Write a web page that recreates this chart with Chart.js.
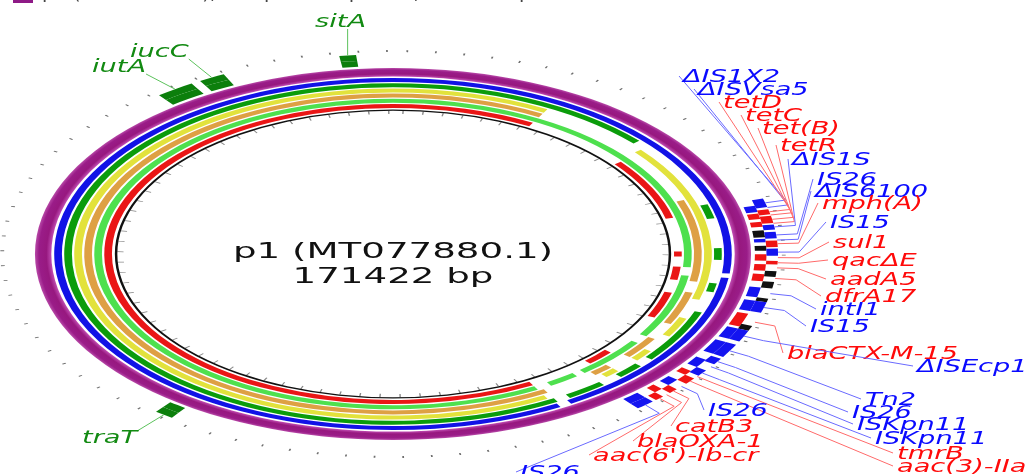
<!DOCTYPE html>
<html>
<head>
<meta charset="utf-8">
<script src="https://cdn.jsdelivr.net/npm/chart.js@4.4.0/dist/chart.umd.min.js"></script>
<style>
  html, body { margin: 0; padding: 0; background: #fff; }
  #wrap { width: 1028px; height: 474px; position: relative; overflow: hidden; }
</style>
</head>
<body>
<div id="wrap"><canvas id="map" width="1028" height="474"></canvas></div>
<script>
// plasmid length (kb)
const genomeLength = 171.422;

// BLAST rings, outer -> inner, [start, end] in kb
const ringPurple = [[0, 171.422]];
const ringBlue = [[0, 45.9], [46.6, 70.6], [71.6, 171.422]];
const ringDkGreen = [[0, 23.1], [34.8, 37.1], [41.9, 43.8], [47.6, 49.0], [52.4, 61.0], [62.4, 64.8], [66.7, 70.2], [71.4, 171.422]];
const ringYellow = [[0, 13.8], [24.3, 50.5], [53.8, 57.1], [60.0, 61.9], [64.3, 65.7], [71.9, 171.422]];
const ringOrange = [[0, 13.8], [33.5, 47.6], [49.5, 55.2], [58.1, 61.9], [64.3, 66.2], [71.4, 171.422]];
const ringLGreen = [[0, 45.2], [46.7, 58.1], [59.5, 66.7], [67.6, 70.5], [71.9, 171.422]];
const ringRed = [[0, 13.8], [24.8, 36.2], [42.4, 43.3], [45.2, 47.6], [50.0, 54.8], [62.4, 65.2], [71.9, 171.422]];

// annotated features
const featureNames = ['ΔIS1X2', 'ΔISVsa5', 'tetD', 'tetC', 'tet(B)', 'tetR', 'ΔIS1S', '', 'IS26', 'ΔIS6100',
  'mph(A)', '', 'IS15', 'sul1', 'qacΔE', 'aadA5', '', 'dfrA17', '', 'intI1',
  '', 'IS15', 'blaCTX-M-15', '', 'ΔISEcp1', 'Tn2', 'IS26', 'ISKpn11', 'ISKpn11', 'tmrB',
  'aac(3)-IIa', 'IS26', 'catB3', 'blaOXA-1', "aac(6')-Ib-cr", 'IS26', 'iutA', 'iucC', 'sitA', 'traT'];
const featureStart = [35.2, 36.0, 36.7, 37.1, 37.6, 38.3, 38.8, 39.5, 39.8, 40.7,
  41.0, 41.7, 42.1, 42.9, 43.8, 44.3, 45.2, 45.7, 46.7, 47.6,
  49.0, 49.5, 51.4, 52.9, 53.6, 55.7, 57.9, 58.6, 59.8, 60.5,
  61.2, 62.1, 63.1, 63.8, 64.5, 65.5, 153.6, 157.1, 167.6, 102.4];
const featureEnd = [36.4, 36.9, 37.4, 37.9, 38.6, 39.0, 39.5, 40.5, 40.7, 41.2,
  41.9, 42.4, 43.1, 43.8, 44.3, 45.2, 46.0, 46.7, 47.6, 49.0,
  49.5, 51.0, 53.3, 53.6, 55.2, 57.6, 58.8, 59.8, 60.7, 61.2,
  62.1, 63.1, 63.8, 64.5, 65.2, 66.9, 156.4, 159.0, 168.8, 103.8];
const featureKind = ['is', 'is', 'res', 'res', 'res', 'res', 'is', 'other', 'is', 'is',
  'res', 'other', 'is', 'res', 'res', 'res', 'other', 'res', 'other', 'is',
  'other', 'is', 'res', 'other', 'is', 'is', 'is', 'is', 'is', 'res',
  'res', 'is', 'res', 'res', 'res', 'is', 'vir', 'vir', 'vir', 'vir'];
const featureLane = ['o', 'i', 'o', 'i', 'o', 'i', 'o', 'i', 'o', 'i',
  'o', 'i', 'o', 'i', 'o', 'i', 'o', 'i', 'o', 'i',
  'o', 'b', 'i', 'o', 'b', 'b', 'o', 'i', 'o', 'i',
  'o', 'i', 'o', 'i', 'o', 'b', 'b', 'b', 'b', 'b'];

// where each label's text sits (left, baseline), keyed by feature index
const labelAt = {
  0: [683, 82], 1: [698, 95], 2: [723, 108], 3: [745, 121], 4: [762, 134], 5: [780, 151],
  6: [792, 165], 8: [817, 185], 9: [815, 197], 10: [822, 209], 12: [830, 228], 13: [833, 248],
  14: [832, 266], 15: [830, 285], 17: [825, 302], 19: [820, 315], 21: [810, 332], 22: [787, 359],
  24: [917, 372], 25: [865, 405], 26: [852, 418], 27: [857, 430], 28: [875, 444], 29: [897, 459],
  30: [897, 472], 31: [708, 416], 32: [675, 432], 33: [637, 447], 34: [593, 461], 35: [520, 478],
  36: [92, 72], 37: [130, 57], 38: [315, 27], 39: [82, 443]
};

const kindColor = { is: '#1414f0', res: '#f01414', other: '#111111', vir: '#0c7f0c' };
const kindText = { is: '#0a0aff', res: '#ff0a0a', vir: '#128a12' };
const kindLine = { is: '#6a6aff', res: '#ff6a6a', vir: '#5cc25c' };

const SX = 1.925;      // horizontal stretch of the map
const TX = 1.6;        // horizontal stretch of labels
const CLEAR = 'rgba(0,0,0,0)';

function ringData(segs, color) {
  const data = [], bg = [];
  let pos = 0;
  segs.forEach(([s, e]) => {
    if (s > pos) { data.push(s - pos); bg.push(CLEAR); }
    data.push(e - s); bg.push(color);
    pos = e;
  });
  if (pos < genomeLength) { data.push(genomeLength - pos); bg.push(CLEAR); }
  return { data, bg };
}

function laneData(lane) {
  const idx = featureStart.map((s, i) => i)
    .filter(i => featureLane[i] === lane || featureLane[i] === 'b')
    .sort((a, b) => featureStart[a] - featureStart[b]);
  const data = [], bg = [];
  let pos = 0;
  idx.forEach(i => {
    const s = Math.max(featureStart[i], pos), e = featureEnd[i];
    if (s > pos) { data.push(s - pos); bg.push(CLEAR); }
    data.push(e - s); bg.push(kindColor[featureKind[i]]);
    pos = e;
  });
  data.push(genomeLength - pos); bg.push(CLEAR);
  return { data, bg };
}

function tickData(step, half, color) {
  const segs = [];
  for (let p = step / 2; p < genomeLength; p += step) segs.push([p - half, p + half]);
  return ringData(segs, color);
}

function ds(d, weight) {
  return { data: d.data, backgroundColor: d.bg, borderWidth: 0, weight, clip: false };
}
function spacer(weight) {
  return { data: [genomeLength], backgroundColor: [CLEAR], borderWidth: 0, weight, clip: false };
}

// purple reference ring with the shaded edges of the original
function purpleShade(c) {
  const ctrl = c.chart.getDatasetMeta(c.datasetIndex).controller;
  const a = c.chart.chartArea;
  if (!a || !ctrl.outerRadius) return '#9c1f8b';
  const x = (a.left + a.right) / 2, y = (a.top + a.bottom) / 2;
  const g = c.chart.ctx.createRadialGradient(x, y, ctrl.innerRadius, x, y, ctrl.outerRadius);
  g.addColorStop(0, '#c04cb2');
  g.addColorStop(0.3, '#97187f');
  g.addColorStop(0.75, '#9a1c88');
  g.addColorStop(1, '#b84aa8');
  return g;
}

const purpleSet = ds(ringData(ringPurple, '#9c1f8b'), 8.5);
purpleSet.backgroundColor = purpleShade;

const datasets = [
  ds(tickData(2, 0.06, '#6e6e6e'), 2),
  spacer(2),
  ds(laneData('o'), 6),
  ds(laneData('i'), 6),
  spacer(2),
  purpleSet,
  spacer(1.5),
  ds(ringData(ringBlue, '#1212e6'), 4),
  spacer(1.2),
  ds(ringData(ringDkGreen, '#0b9c0b'), 4),
  spacer(1.2),
  ds(ringData(ringYellow, '#e2e23c'), 4),
  spacer(1.2),
  ds(ringData(ringOrange, '#dea044'), 4),
  spacer(1.2),
  ds(ringData(ringLGreen, '#4ee04e'), 4),
  spacer(1.2),
  ds(ringData(ringRed, '#ea1616'), 4),
  spacer(1.5),
  ds(ringData([[0, genomeLength]], '#111111'), 1.3),
  ds(tickData(2, 0.07, '#8a8a8a'), 3.2)
];

const ellipse = {
  id: 'ellipse',
  beforeDatasetsDraw(chart) {
    const c = chart.getDatasetMeta(0).data[0];
    const ctx = chart.ctx;
    ctx.save();
    ctx.translate(c.x, c.y);
    ctx.scale(SX, 1);
    ctx.translate(-c.x, -c.y);
  },
  afterDatasetsDraw(chart) { chart.ctx.restore(); }
};

function stretchedText(ctx, txt, x, y, sx, align) {
  ctx.save();
  ctx.translate(x, y);
  ctx.scale(sx, 1);
  ctx.textAlign = align || 'left';
  ctx.fillText(txt, 0, 0);
  ctx.restore();
}

const annotations = {
  id: 'annotations',
  afterDraw(chart) {
    const ctx = chart.ctx;
    const c = chart.getDatasetMeta(0).data[0];
    const cx = c.x, cy = c.y;
    const laneOuter = chart.getDatasetMeta(2).controller.outerRadius;
    const at = (kb, r) => {
      const a = -Math.PI / 2 + kb / genomeLength * Math.PI * 2;
      return [cx + SX * r * Math.cos(a), cy + r * Math.sin(a)];
    };

    // legend remnant at top-left
    ctx.fillStyle = '#8e1a86';
    ctx.fillRect(13, -8, 20, 11);
    ctx.fillStyle = '#444';
    ctx.font = '15px "DejaVu Sans"';
    ctx.textBaseline = 'alphabetic';
    stretchedText(ctx, 'p1 (MT077880.1), complete sequence, 171422 bp', 42, -1, 1.3);

    // centre title
    ctx.fillStyle = '#111';
    ctx.font = '21px "DejaVu Sans"';
    stretchedText(ctx, 'p1 (MT077880.1)', cx, 258, 1.77, 'center');
    stretchedText(ctx, '171422 bp', cx, 283, 1.77, 'center');

    // callouts + labels
    ctx.font = 'italic 17px "DejaVu Sans"';
    Object.keys(labelAt).forEach(k => {
      const i = +k;
      const [tx, ty] = labelAt[i];
      const kind = featureKind[i];
      const mid = (featureStart[i] + featureEnd[i]) / 2;
      const w = ctx.measureText(featureNames[i]).width * TX;
      ctx.strokeStyle = kindLine[kind];
      ctx.lineWidth = 1;
      ctx.beginPath();
      if (kind === 'vir') {
        const b = at(mid, laneOuter);
        const sx = Math.min(Math.max(b[0], tx), tx + w);
        const sy = Math.min(Math.max(b[1], ty - 12), ty + 2);
        ctx.moveTo(sx, sy);
        ctx.lineTo(b[0], b[1]);
      } else {
        const e = at(mid, laneOuter + 11);
        const b = at(mid, laneOuter);
        ctx.moveTo(tx - 4, ty - 6);
        ctx.lineTo(e[0], e[1]);
        ctx.lineTo(b[0], b[1]);
      }
      ctx.stroke();
      ctx.fillStyle = kindText[kind];
      stretchedText(ctx, featureNames[i], tx, ty, TX);
    });
  }
};

new Chart(document.getElementById('map'), {
  type: 'doughnut',
  data: { labels: datasets[0].data.map((v, i) => i), datasets },
  options: {
    responsive: false,
    animation: false,
    events: [],
    radius: 204,
    cutout: (140 / 204 * 100) + '%',
    layout: { padding: { left: 189, top: 50, right: 431, bottom: 16 } },
    plugins: { legend: { display: false }, tooltip: { enabled: false } }
  },
  plugins: [ellipse, annotations]
});
</script>
</body>
</html>
